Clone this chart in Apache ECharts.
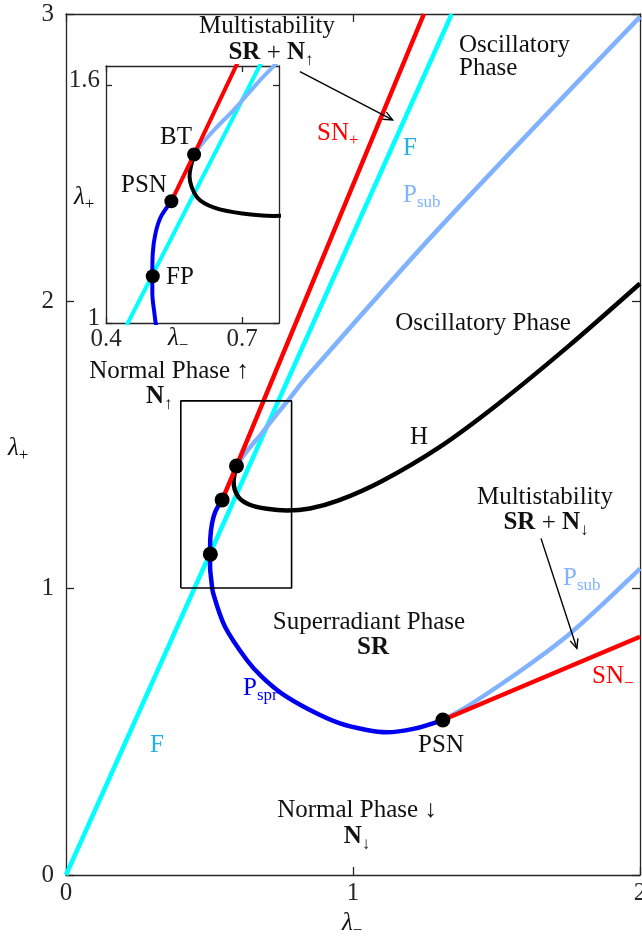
<!DOCTYPE html>
<html><head><meta charset="utf-8">
<script src="https://cdn.jsdelivr.net/npm/echarts@6/dist/echarts.min.js"></script>
<style>html,body{margin:0;padding:0;background:#fff;overflow:hidden}#c{width:642px;height:937px}</style>
</head><body><div id="c"></div>
<script>
// ---- data (lambda_minus, lambda_plus) ----
const curveF = [[0,0],[1.344,3]];
const curveSNplus = [[0.544,1.307],[0.594,1.425],[1.247,3]];
const curvePsubUpper = [[0.594,1.425],[0.615,1.457],[0.644,1.494],[0.681,1.537],[0.736,1.608],[0.771,1.650],[0.83,1.725],[1.294,2.247],[2.0,2.99]];
const curveH = [[0.594,1.425],[0.584,1.37],[0.60,1.318],[0.64,1.29],[0.70,1.276],[0.77,1.270],[0.85,1.277],[0.95,1.305],[1.10,1.372],[1.30,1.49],[1.50,1.637],[1.75,1.842],[2.0,2.061]];
const curvePspr = [[0.544,1.307],[0.521,1.268],[0.509,1.226],[0.503,1.176],[0.502,1.117],[0.502,1.075],[0.506,1.03],[0.513,0.981],[0.554,0.865],[0.630,0.749],[0.682,0.691],[0.751,0.633],[0.850,0.575],[0.955,0.528],[1.048,0.505],[1.117,0.497],[1.210,0.509],[1.313,0.540]];
const curveSNminus = [[1.313,0.540],[2.0,0.830]];
const curvePsubLower = [[1.313,0.540],[1.396,0.586],[1.512,0.662],[1.628,0.743],[1.745,0.832],[1.861,0.935],[1.977,1.045],[2.0,1.068]];
const bifPoints = [[0.594,1.425],[0.544,1.307],[0.503,1.118],[1.313,0.540]];
const zoomBox = [[0.4,1.0],[0.786,1.0],[0.786,1.652],[0.4,1.652],[0.4,1.0]];
const arrows = [[0.815,2.799,1.138,2.631],[1.655,1.173,1.780,0.790]];
const mainXTicks = [0,1,2];
const mainYTicks = [0,1,2,3];
const insetXTicks = [0.4,0.7];
const insetYTicks = [1,1.6];

// ---- styles ----
const RED='#ff0000', CYAN='#00ffff', LBLUE='#80b2ff', BLUE='#0000f0', FLAB='#22b0e8', AX='#262626';
const FONT='Liberation Serif', SIZE=25, SUB=17, SUBDY=8;

const chart = echarts.init(document.getElementById('c'), null, {renderer:'canvas'});

function ax(grid, pos, min, max, ticks, labels, tlen, margin, extra){
  return {type:'value', gridIndex:grid, position:pos, min:min, max:max,
    axisLine:{show:true, onZero:false, lineStyle:{color:AX, width:1.3}},
    axisTick:{show:true, inside:true, length:tlen, customValues:ticks, lineStyle:{color:AX, width:1.3}},
    axisLabel:Object.assign({show:labels, customValues:ticks, margin:margin, color:AX, fontFamily:FONT, fontSize:SIZE,
      showMinLabel:true, showMaxLabel:true}, extra||{}),
    splitLine:{show:false}};
}

function lineS(data, color, w, xi, yi, smooth, z){
  return {type:'line', data:data, xAxisIndex:xi, yAxisIndex:yi, symbol:'none', showSymbol:false,
    smooth:smooth, lineStyle:{color:color, width:w}, clip:true, silent:true, z:z||2, animation:false};
}
function curves(xi, yi, w){
  return [
    lineS(curveF, CYAN, w, xi, yi, false, 2),
    lineS(curvePspr, BLUE, w, xi, yi, 0.3, 3),
    lineS(curveH, '#000', w, xi, yi, 0.3, 3),
    lineS(curvePsubUpper, LBLUE, w, xi, yi, 0.3, 4),
    lineS(curvePsubLower, LBLUE, w, xi, yi, 0.3, 4),
    lineS(curveSNplus, RED, w, xi, yi, false, 5),
    lineS(curveSNminus, RED, w, xi, yi, false, 5)
  ];
}

// ---- text helper ----
const mctx = document.createElement('canvas').getContext('2d');
function fontStr(p){ return (p.i?'italic ':'')+(p.b?'bold ':'')+(p.sub?SUB:SIZE)+'px "'+FONT+'"'; }
function label(x, y, align, color, parts){
  const ps = parts.map(a => ({t:a[0], b:a.includes('b'), sub:a.includes('sub'), i:a.includes('i')}));
  const ws = ps.map(p => { mctx.font = fontStr(p); return mctx.measureText(p.t).width; });
  const tot = ws.reduce((s,v)=>s+v,0);
  let cx = align==='left'? x : (align==='right'? x-tot : x-tot/2);
  const out=[];
  ps.forEach((p,k)=>{
    out.push({type:'text', x:cx, y:y+(p.sub?SUBDY:0), z:100, silent:true,
      style:{text:p.t, font:fontStr(p), fill:color, align:'left', verticalAlign:'middle'}});
    cx += ws[k];
  });
  return out;
}
const texts = [
  [267,26,'center','#111',[['Multistability']]],
  [271,53,'center','#111',[['SR','b'],[' + '],['N','b'],['↑','sub']]],
  [459,45,'left','#111',[['Oscillatory']]],
  [459,68,'left','#111',[['Phase']]],
  [317,133,'left',RED,[['SN'],['+','sub']]],
  [410,148,'center',FLAB,[['F']]],
  [403,195,'left',LBLUE,[['P'],['sub','sub']]],
  [483,323,'center','#111',[['Oscillatory Phase']]],
  [169,371,'center','#111',[['Normal Phase ↑']]],
  [146,397,'left','#111',[['N','b'],['↑','sub']]],
  [419,437,'center','#111',[['H']]],
  [545,497,'center','#111',[['Multistability']]],
  [546,523,'center','#111',[['SR','b'],[' + '],['N','b'],['↓','sub']]],
  [563,578,'left',LBLUE,[['P'],['sub','sub']]],
  [369,622,'center','#111',[['Superradiant Phase']]],
  [373,648,'center','#111',[['SR','b']]],
  [592,676,'left',RED,[['SN'],['−','sub']]],
  [243,688,'left',BLUE,[['P'],['spr','sub']]],
  [157,745,'center',FLAB,[['F']]],
  [441,745,'center','#111',[['PSN']]],
  [357,810,'center','#111',[['Normal Phase ↓']]],
  [357,837,'center','#111',[['N','b'],['↓','sub']]],
  [160,137,'left','#111',[['BT']]],
  [121,185,'left','#111',[['PSN']]],
  [166,277,'left','#111',[['FP']]],
  [74,197,'left','#111',[['λ','i'],['+','sub']]],
  [168,338,'left','#111',[['λ','i'],['−','sub']]],
  [8,448,'left','#111',[['λ','i'],['+','sub']]],
  [342,923,'left','#111',[['λ','i'],['−','sub']]]
];
let graphics = [];
texts.forEach(t => { graphics = graphics.concat(label(t[0],t[1],t[2],t[3],t[4])); });

const option = {
  animation:false,
  backgroundColor:'#fff',
  grid:[
    {left:66, top:14, width:574, height:861, show:false, outerBoundsMode:'none', containLabel:false},
    {left:106, top:66, width:173, height:257, show:true, backgroundColor:'#fff', borderWidth:0, z:10, outerBoundsMode:'none', containLabel:false}
  ],
  xAxis:[
    ax(0,'bottom',0,2,mainXTicks,true,8,6),
    ax(0,'top',0,2,mainXTicks,false,8,6),
    Object.assign(ax(1,'bottom',0.4,0.781,insetXTicks,true,6,4),{z:11}),
    Object.assign(ax(1,'top',0.4,0.781,insetXTicks,false,6,4),{z:11})
  ],
  yAxis:[
    ax(0,'left',0,3,mainYTicks,true,8,12),
    ax(0,'right',0,3,mainYTicks,false,8,12),
    Object.assign(ax(1,'left',1,1.648,insetYTicks,true,6,6,{verticalAlign:'bottom', lineHeight:10}),{z:11}),
    Object.assign(ax(1,'right',1,1.648,insetYTicks,false,6,6),{z:11})
  ],
  series: [].concat(
    curves(0,0,4.5),
    [lineS(zoomBox,'#000',1.6,0,0,false,6)],
    [{type:'scatter', xAxisIndex:0, yAxisIndex:0, data:bifPoints, symbolSize:15, itemStyle:{color:'#000', opacity:1}, z:8, silent:true}],
    [{type:'custom', xAxisIndex:0, yAxisIndex:0, data:arrows, z:9, silent:true,
      renderItem:function(params, api){
        const p1 = api.coord([api.value(0), api.value(1)]);
        const p2 = api.coord([api.value(2), api.value(3)]);
        const ang = Math.atan2(p2[1]-p1[1], p2[0]-p1[0]);
        const L=10, a=0.42;
        const h1=[p2[0]-L*Math.cos(ang-a), p2[1]-L*Math.sin(ang-a)];
        const h2=[p2[0]-L*Math.cos(ang+a), p2[1]-L*Math.sin(ang+a)];
        return {type:'group', children:[
          {type:'line', shape:{x1:p1[0],y1:p1[1],x2:p2[0],y2:p2[1]}, style:{stroke:'#000', lineWidth:1.4}},
          {type:'polyline', shape:{points:[h1,p2,h2]}, style:{stroke:'#000', lineWidth:1.4, fill:null}}
        ]};
      }}],
    curves(2,2,4).map(s => Object.assign(s,{z:s.z+10})),
    [{type:'scatter', xAxisIndex:2, yAxisIndex:2, data:bifPoints.slice(0,3), symbolSize:14, itemStyle:{color:'#000', opacity:1}, z:20, silent:true}]
  ),
  graphic: graphics
};
chart.setOption(option);
</script>
</body></html>
